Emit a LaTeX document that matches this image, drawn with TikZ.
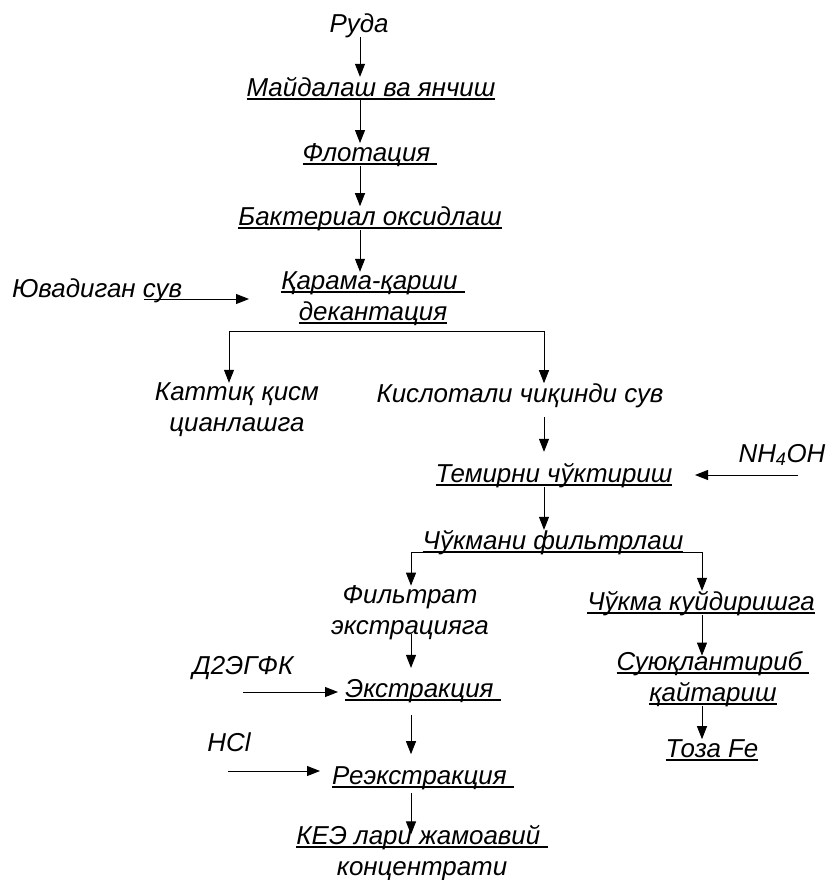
\documentclass[tikz,border=0pt]{standalone}
\usepackage{fontspec}
\setmainfont{Liberation Sans}
\usetikzlibrary{arrows.meta}
\newcommand{\ulx}[1]{\setbox0=\hbox{#1}\rlap{\rule[-0.14em]{\wd0}{0.07em}}\box0}
\begin{document}
\begin{tikzpicture}[x=1bp,y=-1bp,
  every node/.style={inner sep=0pt,outer sep=0pt,font=\fontsize{26}{30.5}\selectfont\itshape},
  lbl/.style={anchor=base},
  lblw/.style={anchor=base west},
  arr/.style={-{Triangle[length=13bp,width=10bp]},line width=0.9bp},
  ln/.style={line width=0.9bp}]
\useasboundingbox (0,0) rectangle (829,880);
% columns
\coordinate (cA) at (360,0);
\coordinate (cB) at (544,0);
\coordinate (cC) at (411,0);
\coordinate (cD) at (702,0);
% nodes (anchor base = baseline of last line)
\node[lbl] (ruda) at (359,32) {Руда};
\node[lbl] (maid) at (371,96) {\ulx{Майдалаш ва янчиш}};
\node[lbl] (flot) at (370,161) {\ulx{Флотация\ }};
\node[lbl] (bakt) at (370,225) {\ulx{Бактериал оксидлаш}};
\node[lbl,align=center] (dek) at (373,320) {\ulx{Қарама-қарши\ }\\\ulx{декантация}};
\node[lblw] (yuv) at (12,297) {Ювадиган сув};
\node[lbl,align=center] (kat) at (237,431) {Каттиқ қисм\\цианлашга};
\node[lbl] (kis) at (520,402) {Кислотали чиқинди сув};
\node[lbl] (tem) at (554,482) {\ulx{Темирни чўктириш}};
\node[lbl] (nh4) at (782,462) {NH\textsubscript{4}OH};
\node[lbl] (chf) at (553,549) {\ulx{Чўкмани фильтрлаш}};
\node[lbl,align=center] (fil) at (410,634) {Фильтрат\\экстрацияга};
\node[lbl] (chk) at (701,610) {\ulx{Чўкма куйдиришга}};
\node[lbl,align=center] (suy) at (713,701) {\ulx{Суюқлантириб\ }\\\ulx{қайтариш}};
\node[lbl] (toza) at (712,757) {\ulx{Тоза Fe}};
\node[lbl] (d2) at (243,674) {Д2ЭГФК};
\node[lbl] (ekst) at (423,697) {\ulx{Экстракция\ }};
\node[lbl] (hcl) at (229,751) {HCl};
\node[lbl] (reek) at (423,784) {\ulx{Реэкстракция\ }};
\node[lbl,align=center] (kez) at (422,875) {\ulx{КЕЭ лари жамоавий\ }\\концентрати};
% main column
\draw[arr] (ruda.south -| cA) -- (maid.north -| cA);
\draw[arr] (maid.south -| cA) -- (flot.north -| cA);
\draw[arr] (flot.south -| cA) -- (bakt.north -| cA);
\draw[arr] (bakt.south -| cA) -- (dek.north -| cA);
% wash water
\coordinate (ya) at (144,299);
\coordinate (yb) at (249,299);
\draw[arr] (ya) -- (yb);
% first branch
\coordinate (bL) at (229,331);
\coordinate (bR) at (544,331);
\draw[ln] (bL) -- (bR);
\draw[arr] (bL) -- (bL |- kat.north);
\draw[arr] (bR) -- (bR |- kis.north);
% acid water
\draw[arr,shorten <=10bp,shorten >=11bp] (kis.south -| cB) -- (tem.north -| cB);
\coordinate (na) at (798,475);
\coordinate (nb) at (695,475);
\draw[arr] (na) -- (nb);
\draw[arr] (tem.south -| cB) -- (chf.north -| cB);
% second branch
\coordinate (fL) at (411,552);
\coordinate (fR) at (702,552);
\draw[ln] (fL) -- (fR);
\draw[arr] (fL) -- (fL |- fil.north);
\draw[arr] (fR) -- (fR |- chk.north);
% left lower column
\draw[arr,shorten <=-5bp,shorten >=11bp] (fil.south -| cC) -- (ekst.north -| cC);
\coordinate (da) at (243,692);
\coordinate (db) at (338,692);
\draw[arr] (da) -- (db);
\draw[arr,shorten <=13bp,shorten >=12bp] (ekst.south -| cC) -- (reek.north -| cC);
\coordinate (ha) at (228,771);
\coordinate (hb) at (320,771);
\draw[arr] (ha) -- (hb);
\draw[arr,shorten <=4bp,shorten >=-9bp] (reek.south -| cC) -- (kez.north -| cC);
% right lower column
\draw[arr,shorten >=-4bp] (chk.south -| cD) -- (suy.north -| cD);
\draw[arr] (suy.south -| cD) -- (toza.north -| cD);
\end{tikzpicture}
\end{document}
